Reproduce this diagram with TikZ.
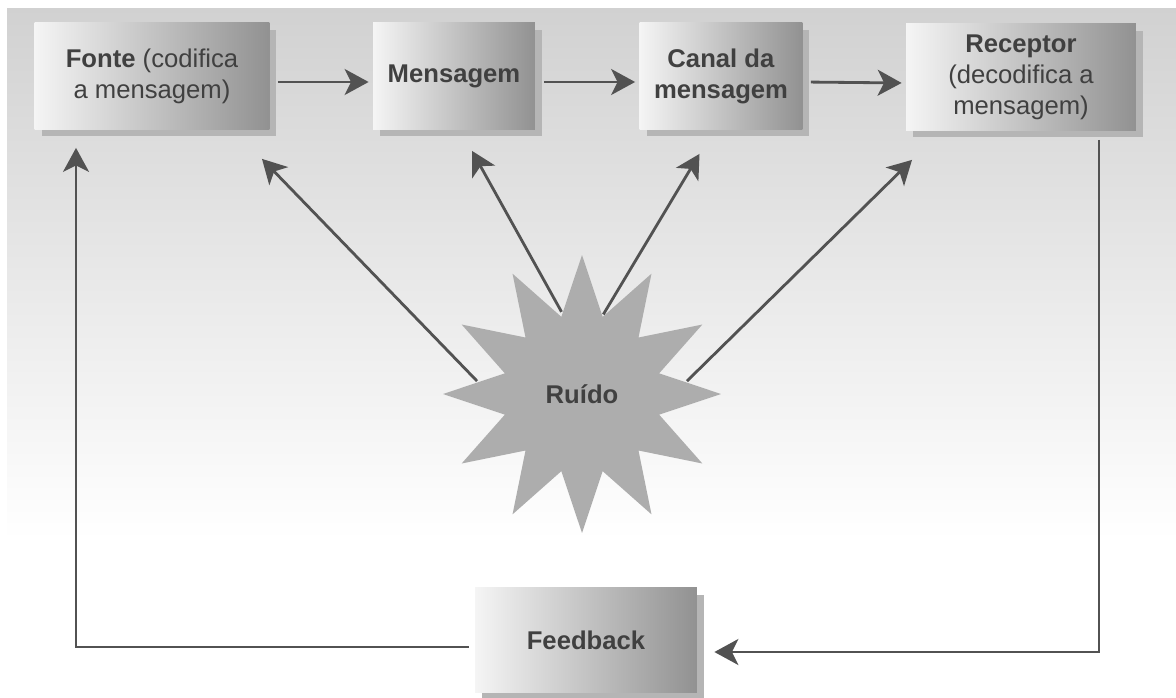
\documentclass[tikz,border=0pt]{standalone}
\usepackage{fontspec}
\setmainfont{Liberation Sans}
\usetikzlibrary{arrows.meta,shapes.geometric,shadows}

\tikzset{
  blocco/.style={left color=gray!8, right color=gray!86, text=black!75,
    font=\fontsize{14.6}{17.6}\selectfont, align=center, inner sep=0pt,
    minimum height=2.14cm,
    drop shadow={shadow xshift=0.14cm, shadow yshift=-0.14cm, fill=gray!58, opacity=1}},
  stella/.style={star, star points=12, star point ratio=1.74, minimum size=5.56cm,
    fill=black!32, inner sep=0pt, text=black!75, font=\fontsize{14.6}{17}\selectfont\bfseries},
}

\begin{document}
\begin{tikzpicture}[x=0.02cm, y=-0.02cm, line width=1.6pt, draw=black!68,
    >={Stealth[length=4.8mm,width=5.2mm,inset=1.3mm]}]
  \useasboundingbox (0,0) rectangle (1176,697);
  \fill[white] (0,0) rectangle (1176,697);
  \shade[top color=gray!36, bottom color=white] (7,8) rectangle (1176,540);

  % Blocos
  \node[blocco, minimum width=4.7cm] (1) at (152,76) {\textbf{Fonte} (codifica\\a mensagem)};
  \node[blocco, minimum width=3.24cm] (2) at (454,76) {\textbf{Mensagem}};
  \node[blocco, minimum width=3.26cm] (3) at (721,76) {\textbf{Canal da}\\\textbf{mensagem}};
  \node[blocco, minimum width=4.6cm] (4) at (1021,77) {\textbf{Receptor}\\(decodifica a\\mensagem)};
  \node[stella] (5) at (582,394) {Ruído};
  \node[blocco, minimum width=4.44cm, minimum height=2.1cm] (6) at (586,640) {\textbf{Feedback}};

  % Setas
  \draw[->, draw=black!68, shorten <=0.14cm, shorten >=0.06cm] ([yshift=-0.12cm]1.east) -- ([yshift=-0.12cm]2.west);
  \draw[->, draw=black!68, shorten <=0.16cm, shorten >=0.06cm] ([yshift=-0.12cm]2.east) -- ([yshift=-0.12cm]3.west);
  \draw[->, draw=black!68, shorten <=0.14cm, shorten >=0.06cm] ([yshift=-0.12cm]3.east) -- ([yshift=-0.12cm]4.west);
  \draw[->, draw=black!68] (5.173) -- ([xshift=2.2cm,yshift=-0.56cm]1.south);
  \draw[->, draw=black!68] (5.104) -- ([xshift=0.36cm,yshift=-0.4cm]2.south);
  \draw[->, draw=black!68] (5.75) -- ([xshift=-0.43cm,yshift=-0.46cm]3.south);
  \draw[->, draw=black!68] (5.7) -- ([xshift=-2.18cm,yshift=-0.56cm]4.south);
  \draw[->, draw=black!68] ([xshift=1.56cm,yshift=-0.16cm]4.south) |- ([xshift=0.32cm,yshift=-0.24cm]6.east);
  \draw[->, draw=black!68] ([xshift=-0.1cm,yshift=-0.14cm]6.west) -| ([xshift=-1.52cm,yshift=-0.34cm]1.south);
\end{tikzpicture}
\end{document}
